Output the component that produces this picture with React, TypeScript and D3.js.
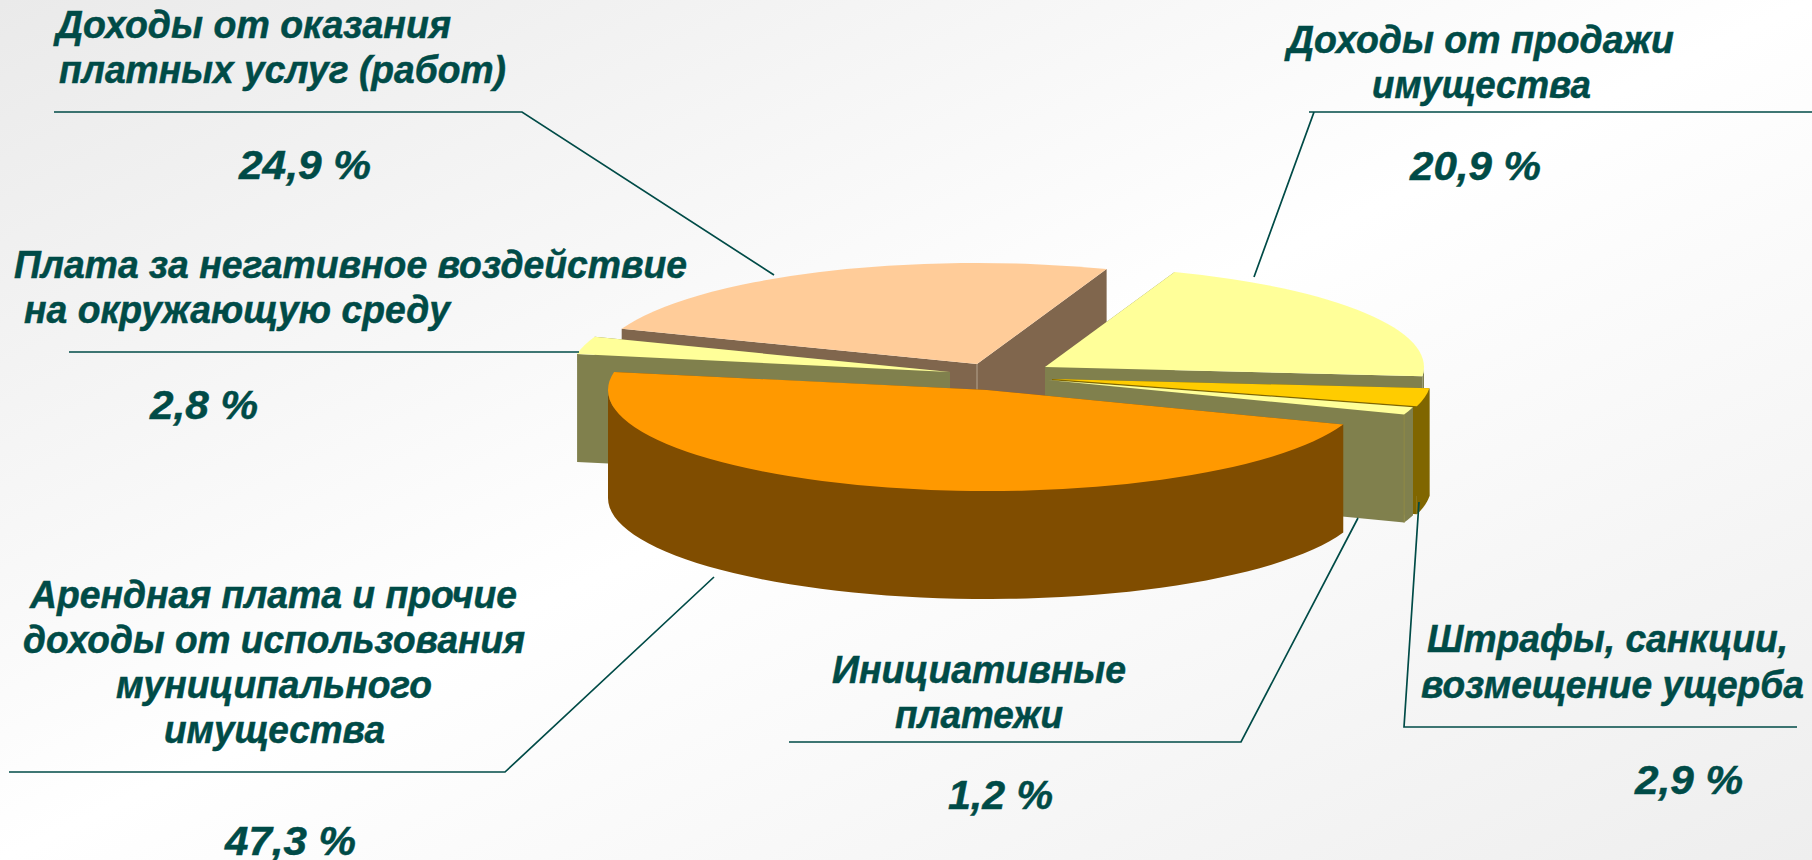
import React from 'react';
import * as d3 from 'd3';

// data, clockwise starting from the big slice
const categories = [
  'Арендная плата и прочие доходы от использования муниципального имущества',
  'Плата за негативное воздействие на окружающую среду',
  'Доходы от оказания платных услуг (работ)',
  'Доходы от продажи имущества',
  'Штрафы, санкции, возмещение ущерба',
  'Инициативные платежи',
];
const values = [47.3, 2.8, 24.9, 20.9, 2.9, 1.2];
const colors = ['#FF9900', '#FFFF99', '#FFCC99', '#FFFF99', '#FFCC00', '#FFFF99'];
const wallColors = ['#804D00', '#80804D', '#80664D', '#80804D', '#806600', '#80804D'];

const WIDTH = 1812;
const HEIGHT = 860;
const RX = 379;
const RY = 101;
const DEPTH = 108;
const START_DEG = 20; // measured from +x, going clockwise on screen

// where each exploded slice has its apex
const apexes: [number, number][] = [
  [987, 390],
  [950, 372],
  [977, 364],
  [1045, 367],
  [1052, 379],
  [1048, 380],
];
// back to front
const paintOrder = [2, 3, 4, 5, 1, 0];

const TEXT = '#004B47';

type Line = { t: string; x0: number; x1: number; y: number };
const labelLines: Line[][] = [
  [
    { t: 'Арендная плата и прочие', x0: 30, x1: 517, y: 608 },
    { t: 'доходы от использования', x0: 23, x1: 525, y: 653 },
    { t: 'муниципального', x0: 116, x1: 432, y: 698 },
    { t: 'имущества', x0: 164, x1: 385, y: 743 },
  ],
  [
    { t: 'Плата за негативное воздействие', x0: 14, x1: 687, y: 278 },
    { t: 'на окружающую среду', x0: 24, x1: 450, y: 323 },
  ],
  [
    { t: 'Доходы от оказания', x0: 56, x1: 451, y: 38 },
    { t: 'платных услуг (работ)', x0: 59, x1: 506, y: 83 },
  ],
  [
    { t: 'Доходы от продажи', x0: 1287, x1: 1674, y: 53 },
    { t: 'имущества', x0: 1372, x1: 1591, y: 98 },
  ],
  [
    { t: 'Штрафы, санкции,', x0: 1427, x1: 1788, y: 652 },
    { t: 'возмещение ущерба', x0: 1421, x1: 1804, y: 698 },
  ],
  [
    { t: 'Инициативные', x0: 832, x1: 1126, y: 683 },
    { t: 'платежи', x0: 895, x1: 1063, y: 728 },
  ],
];
const pctPos = [
  { x0: 225, x1: 356, y: 855 },
  { x0: 150, x1: 258, y: 419 },
  { x0: 239, x1: 371, y: 179 },
  { x0: 1410, x1: 1541, y: 180 },
  { x0: 1635, x1: 1743, y: 794 },
  { x0: 948, x1: 1053, y: 809 },
];
const leaders: [number, number][][] = [
  [[9, 772], [505, 772], [714, 577]],
  [[69, 352], [579, 352]],
  [[54, 112], [522, 112], [774, 275]],
  [[1812, 112], [1309, 112], [1314, 112], [1254, 277]],
  [[1797, 727], [1404, 727], [1419, 502]],
  [[789, 742], [1241, 742], [1358, 518]],
];

const rad = (d: number) => (d * Math.PI) / 180;

export default function App() {
  // d3 angles start at 12 o'clock, so shift by a quarter turn
  const arcs = d3
    .pie<number>()
    .sort(null)
    .value((d) => d)
    .startAngle(rad(START_DEG + 90))
    .endAngle(rad(START_DEG + 90 + 360))(values);
  const arcGen = d3.arc<d3.PieArcDatum<number>>().innerRadius(0).outerRadius(RX);
  const line = d3.line();

  const rimPoint = (a: number, i: number): [number, number] => {
    const th = a - Math.PI / 2;
    return [apexes[i][0] + RX * Math.cos(th), apexes[i][1] + RY * Math.sin(th)];
  };

  // outer wall, only the part of the rim that faces the viewer
  const frontWalls = (i: number) => {
    const { startAngle: s, endAngle: e } = arcs[i];
    const ranges = [
      [Math.max(s, rad(90)), Math.min(e, rad(270))],
      [Math.max(s, rad(450)), Math.min(e, rad(630))],
    ].filter(([a, b]) => b > a);
    return ranges.map(([a, b]) => {
      const rim = d3.range(0, 61).map((k) => rimPoint(a + ((b - a) * k) / 60, i));
      const bottom = rim.map(([x, y]) => [x, y + DEPTH] as [number, number]).reverse();
      return line([...rim, ...bottom]) + 'Z';
    });
  };

  const drop = (p: [number, number]): [number, number] => [p[0], p[1] + DEPTH];

  return (
    <svg
      width={WIDTH}
      height={HEIGHT}
      style={{ position: 'absolute', left: 0, top: 0 }}
      fontFamily="'Liberation Sans', Arial, sans-serif"
    >
      <defs>
        <linearGradient id="bg" x1="0" y1="0" x2="1" y2="1">
          <stop offset="0" stopColor="#EAEAEA" />
          <stop offset="0.5" stopColor="#FFFFFF" />
          <stop offset="1" stopColor="#EEEEEE" />
        </linearGradient>
      </defs>
      <rect width={WIDTH} height={HEIGHT} fill="url(#bg)" />

      {paintOrder.map((i) => {
        const d = arcs[i];
        const apex = apexes[i];
        const first = rimPoint(d.startAngle, i);
        const last = rimPoint(d.endAngle, i);
        return (
          <g key={categories[i]}>
            <path d={line([apex, last, drop(last), drop(apex)]) + 'Z'} fill={wallColors[i]} />
            <path d={line([apex, first, drop(first), drop(apex)]) + 'Z'} fill={wallColors[i]} />
            {frontWalls(i).map((w, k) => (
              <path key={k} d={w} fill={wallColors[i]} />
            ))}
            {/* thin light seam down the corner of the peach slice */}
            {i === 2 && (
              <path d={line([apex, drop(apex)]) ?? ''} stroke="#B5A48F" strokeWidth={1} fill="none" />
            )}
            {/* same on the thin slice, where wall meets wall */}
            {i === 5 && (
              <path d={line([last, drop(last)]) ?? ''} stroke="#8F8A45" strokeWidth={1} fill="none" />
            )}
            <path
              d={arcGen(d) ?? ''}
              fill={colors[i]}
              transform={`translate(${apex[0]},${apex[1]}) scale(1,${RY / RX})`}
            />
          </g>
        );
      })}

      {leaders.map((pts, i) => (
        <path key={i} d={line(pts) ?? ''} fill="none" stroke={TEXT} strokeWidth={1.7} />
      ))}

      <g fill={TEXT} stroke={TEXT} strokeWidth={0.5} fontWeight="bold" fontStyle="italic">
        {labelLines.flat().map((l) => (
          <text
            key={`${l.t}-${l.y}`}
            x={l.x0}
            y={l.y}
            fontSize={38}
            textLength={l.x1 - l.x0}
            lengthAdjust="spacingAndGlyphs"
          >
            {l.t}
          </text>
        ))}
        {pctPos.map((l, i) => (
          <text
            key={i}
            x={l.x0}
            y={l.y}
            fontSize={41}
            textLength={l.x1 - l.x0}
            lengthAdjust="spacingAndGlyphs"
          >
            {values[i].toFixed(1).replace('.', ',') + ' %'}
          </text>
        ))}
      </g>
    </svg>
  );
}
